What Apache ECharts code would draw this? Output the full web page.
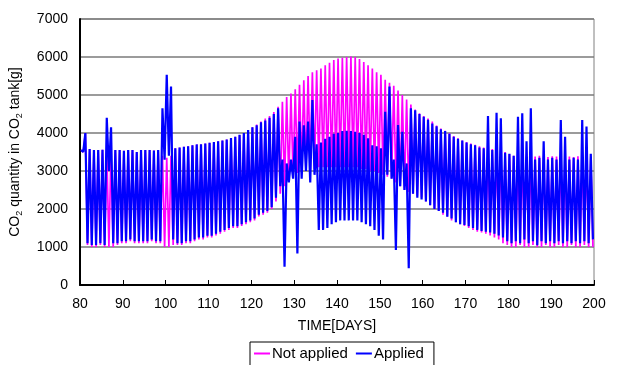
<!DOCTYPE html>
<html>
<head>
<meta charset="utf-8">
<script src="https://cdn.jsdelivr.net/npm/echarts@6/dist/echarts.min.js"></script>
<style>
  html, body { margin: 0; padding: 0; background: #fff; }
  #chart { width: 623px; height: 365px; }
</style>
</head>
<body>
<div id="chart"></div>
<script>
// first day of the record; one peak and one trough per day
const startDay = 80;
const xTicks = [80, 90, 100, 110, 120, 130, 140, 150, 160, 170, 180, 190, 200];
const yTicks = [0, 1000, 2000, 3000, 4000, 5000, 6000, 7000];

// Applied (blue) daily peak / trough, days 80..199
const appliedPeak = [
  3550, 4000, 3580, 3550, 3550, 3560, 4400, 4150, 3550, 3550,
  3530, 3550, 3550, 3500, 3550, 3550, 3550, 3540, 3550, 4650,
  5530, 5220, 3600, 3620, 3640, 3650, 3680, 3700, 3700, 3720,
  3740, 3760, 3780, 3800, 3830, 3870, 3900, 3950, 4000, 4080,
  4150, 4200, 4280, 4330, 4400, 4500, 4650, 3300, 3200, 3300,
  3900, 4300, 4200, 4300, 4870, 3700, 3750, 3850, 3900, 3980,
  4000, 4050, 4060, 4050, 4030, 4000, 3950, 3860, 3680, 3650,
  3600, 4560, 5220, 3300, 4210, 4030, 3200, 4650, 4600, 4500,
  4430, 4350, 4250, 4180, 4100, 4050, 3980, 3900, 3850, 3800,
  3750, 3700, 3680, 3620, 3600, 4450, 3550, 4530, 4390, 3480,
  3450, 3400, 4430, 4520, 3780, 4650, 3300, 3350, 3780, 3300,
  3350, 3300, 4340, 3900, 3300, 3350, 3300, 4340, 4170, 3450
];
const appliedTrough = [
  3500, 1100, 1050, 1050, 1100, 1050, 3000, 1100, 1100, 1150,
  1150, 1200, 1150, 1150, 1150, 1150, 1200, 1150, 1150, 3300,
  3400, 1200, 1100, 1100, 1150, 1150, 1200, 1250, 1250, 1300,
  1300, 1350, 1400, 1450, 1500, 1550, 1550, 1600, 1650, 1700,
  1750, 1850, 1900, 1950, 2050, 2300, 2600, 480, 2700, 2800,
  830, 2800, 3000, 2700, 2900, 1450, 1450, 1500, 1600, 1650,
  1700, 1700, 1700, 1700, 1700, 1650, 1600, 1550, 1450, 1300,
  1200, 2900, 2800, 920, 2600, 2500, 440, 2400, 2300, 2250,
  2200, 2100, 2000, 1950, 1900, 1800, 1750, 1650, 1600, 1580,
  1550, 1500, 1450, 1420, 1400, 1380, 1350, 1300, 1250, 1150,
  1100, 1150, 1100, 1200, 1100, 1150, 1050, 1150, 1100, 1150,
  1100, 1150, 1100, 1150, 1100, 1150, 1100, 1150, 1100, 1200
];

// Not applied (magenta) daily peak / trough, days 80..199
const notAppliedPeak = [
  3550, 4000, 3580, 3550, 3550, 3560, 3550, 3550, 3550, 3550,
  3530, 3550, 3550, 3500, 3550, 3550, 3550, 3540, 3550, 3400,
  3350, 3400, 3600, 3620, 3640, 3650, 3680, 3700, 3700, 3720,
  3740, 3760, 3780, 3800, 3830, 3870, 3900, 3950, 4000, 4080,
  4150, 4220, 4300, 4380, 4450, 4550, 4690, 4820, 4950, 5040,
  5150, 5270, 5390, 5500, 5600, 5650, 5700, 5780, 5850, 5920,
  5960, 5980, 6000, 6010, 6000, 5950, 5870, 5780, 5700, 5600,
  5530, 5400, 5320, 5240, 5120, 5000, 4880, 4750, 4620, 4520,
  4450, 4380, 4300, 4200, 4120, 4060, 3990, 3920, 3860, 3800,
  3760, 3720, 3690, 3650, 3620, 3600, 3580, 3560, 3540, 3500,
  3450, 3400, 3380, 3400, 3380, 3390, 3380, 3400, 3380, 3370,
  3390, 3380, 3370, 3400, 3380, 3370, 3390, 3380, 3400, 3380
];
const notAppliedTrough = [
  3500, 1050, 1000, 1000, 1050, 1000, 1000, 1000, 1050, 1100,
  1100, 1150, 1100, 1100, 1100, 1100, 1150, 1100, 1100, 1000,
  1000, 1050, 1050, 1050, 1100, 1100, 1150, 1200, 1200, 1250,
  1250, 1300, 1350, 1400, 1450, 1500, 1500, 1550, 1600, 1650,
  1700, 1800, 1850, 1900, 2000, 2200, 2400, 2600, 2750, 2850,
  2950, 3000, 3000, 3050, 3050, 3100, 3100, 3100, 3100, 3100,
  3100, 3100, 3100, 3100, 3100, 3050, 3050, 3000, 3000, 2950,
  2900, 2850, 2800, 2700, 2600, 2500, 2450, 2400, 2350, 2300,
  2200, 2100, 2000, 1950, 1850, 1800, 1700, 1650, 1600, 1550,
  1500, 1450, 1400, 1380, 1350, 1300, 1250, 1200, 1100, 1050,
  1000, 1000, 1050, 1000, 1000, 1050, 1000, 1000, 1050, 1000,
  1000, 1050, 1000, 1000, 1050, 1000, 1000, 1050, 1000, 1000
];

// peak in the first half of each day, trough in the second half
function toSeries(peaks, troughs) {
  const out = [];
  peaks.forEach((p, i) => {
    out.push([startDay + i + 0.25, p]);
    out.push([startDay + i + 0.75, troughs[i]]);
  });
  return out;
}

const font = '"Liberation Sans", Arial, sans-serif';
const chart = echarts.init(document.getElementById('chart'));

chart.setOption({
  animation: false,
  grid: {
    left: 80,
    top: 19,
    width: 514,
    height: 266,
    show: true,
    borderColor: '#808080',
    borderWidth: 1
  },
  legend: {
    bottom: -8,
    left: 250,
    orient: 'horizontal',
    icon: 'rect',
    itemWidth: 16,
    itemHeight: 2,
    itemGap: 8,
    padding: [4, 10, 12, 4],
    borderColor: '#000',
    borderWidth: 1,
    textStyle: { fontFamily: font, fontSize: 15, color: '#000', padding: [0, 0, 0, -3] },
    data: ['Not applied', 'Applied']
  },
  xAxis: {
    type: 'value',
    min: xTicks[0],
    max: xTicks[xTicks.length - 1],
    interval: 10,
    name: 'TIME[DAYS]',
    nameLocation: 'middle',
    nameGap: 34,
    nameTextStyle: { fontFamily: font, fontSize: 14, color: '#000' },
    axisLine: { lineStyle: { color: '#000', width: 2 } },
    axisTick: { inside: true, length: 5, lineStyle: { color: '#000', width: 1 } },
    axisLabel: { fontFamily: font, fontSize: 14, color: '#000', margin: 12 },
    splitLine: { show: false }
  },
  yAxis: {
    type: 'value',
    min: yTicks[0],
    max: yTicks[yTicks.length - 1],
    interval: 1000,
    name: 'CO{sub|2} quantity in CO{sub|2} tank[g]',
    nameLocation: 'middle',
    nameGap: 56,
    nameTextStyle: {
      fontFamily: font, fontSize: 14, color: '#000',
      rich: { sub: { fontFamily: font, fontSize: 9, color: '#000', padding: [8, 0, 0, 0] } }
    },
    axisLine: { show: true, lineStyle: { color: '#000', width: 2 } },
    axisTick: { show: false },
    axisLabel: { fontFamily: font, fontSize: 14, color: '#000', margin: 12, formatter: (v) => String(v) },
    splitLine: { lineStyle: { color: '#7a7a7a', width: 1.5 } }
  },
  series: [
    {
      name: 'Not applied',
      type: 'line',
      showSymbol: false,
      color: '#ff00ff',
      lineStyle: { width: 1.7, color: '#ff00ff' },
      data: toSeries(notAppliedPeak, notAppliedTrough)
    },
    {
      name: 'Applied',
      type: 'line',
      showSymbol: false,
      color: '#0000ff',
      lineStyle: { width: 2.2, color: '#0000ff' },
      data: toSeries(appliedPeak, appliedTrough)
    }
  ]
});
</script>
</body>
</html>
